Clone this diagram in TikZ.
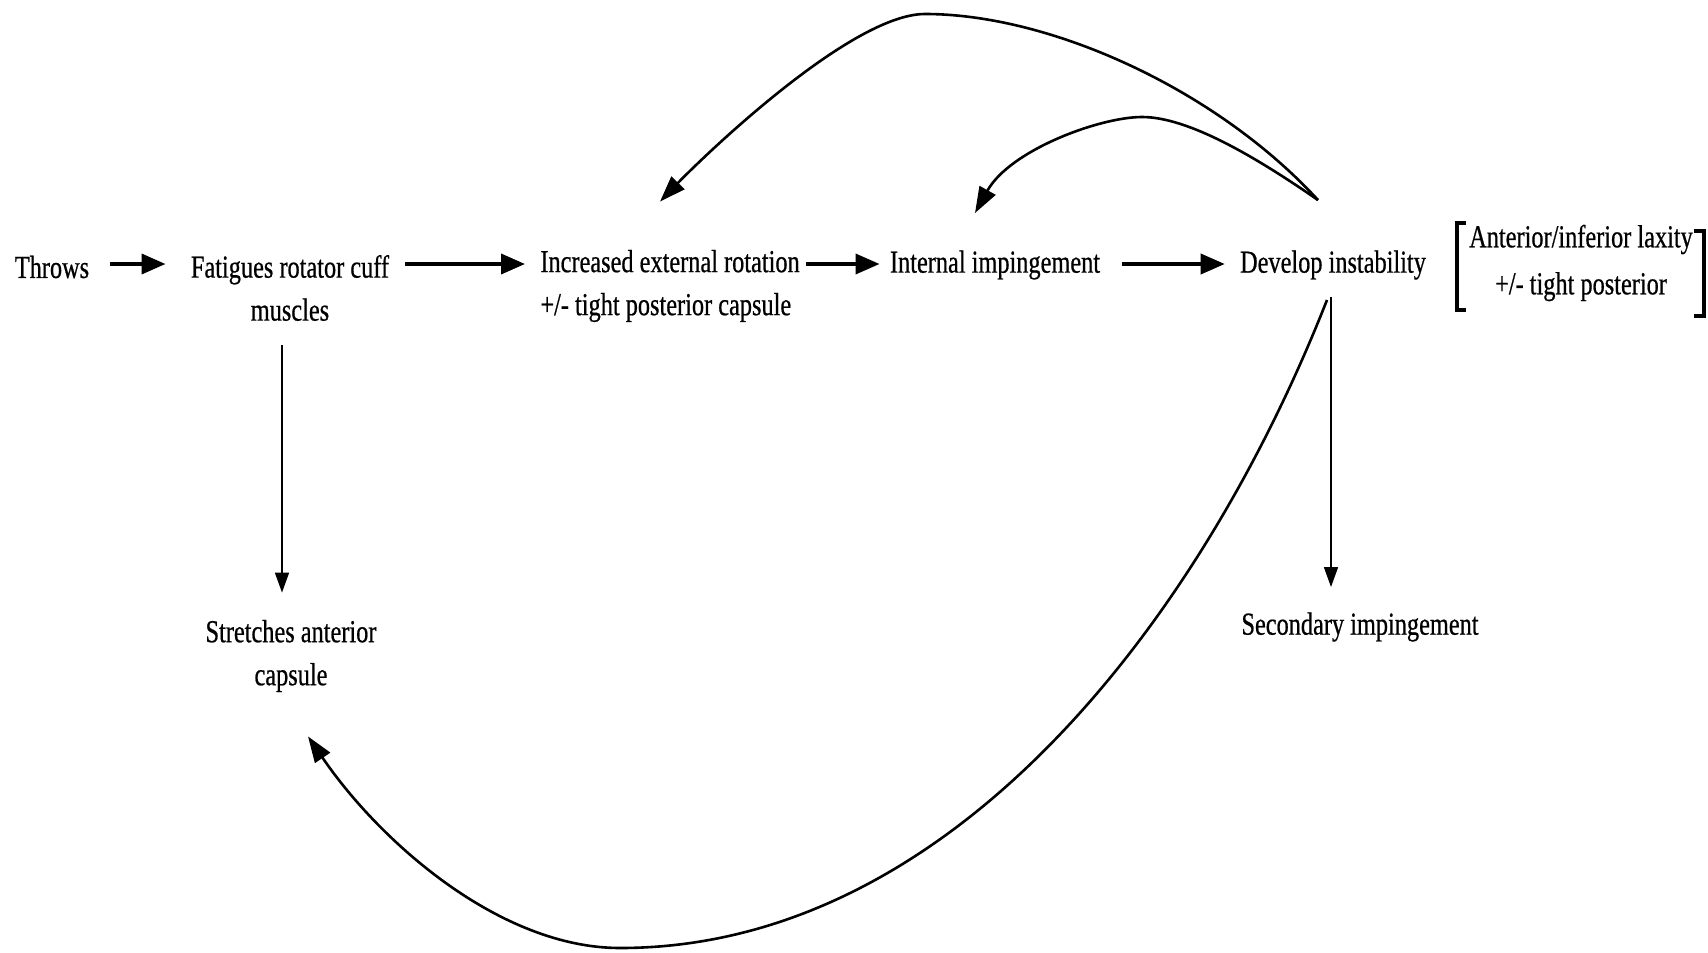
\documentclass[tikz,border=0pt]{standalone}
\usepackage{fontspec}
\setmainfont{Liberation Serif}[FakeStretch=0.76,FakeBold=0.6]
\usetikzlibrary{arrows.meta}
\begin{document}
\begin{tikzpicture}[x=0.5pt,y=-0.5pt,
  txt/.style={inner sep=0pt, font=\fontsize{16}{21.5}\selectfont},
  harr/.style={line width=1.8pt, -{Triangle[length=12pt,width=10pt]}},
  varr/.style={line width=0.8pt, -{Triangle[length=10pt,width=7pt]}},
  carr/.style={line width=1.3pt, -{Triangle[length=13pt,width=9pt]}},
  brk/.style={line width=2pt}]
\useasboundingbox (0,0) rectangle (1708,953);
\node[txt] (throws) at (52,267) {Throws};
\node[txt, align=center] (fatigues) at (290,288) {Fatigues rotator cuff\\muscles};
\node[txt, align=left, anchor=west] (increased) at (540,286) {Increased external rotation\\+/- tight posterior capsule};
\node[txt] (internal) at (995,265) {Internal impingement};
\node[txt] (develop) at (1333,265) {Develop instability};
\node[txt, align=center] (laxity) at (1581,263) {Anterior/inferior laxity\\[2pt]+/- tight posterior};
\node[txt, align=center] (stretches) at (291,656) {Stretches anterior\\capsule};
\node[txt] (secondary) at (1360,627) {Secondary impingement};
\coordinate (row) at ([yshift=1.5pt]throws.east);
% brackets
\draw[brk] (1466,223) -- (1457,223) -- (1457,310) -- (1466,310);
\draw[brk] (1694,231) -- (1704,231) -- (1704,316) -- (1694,316);
% main row
\draw[harr] ([xshift=10pt]row) -- ([xshift=-12.5pt]fatigues.west |- row);
\draw[harr] ([xshift=8pt]fatigues.east |- row) -- ([xshift=-7.5pt]increased.west |- row);
\draw[harr] ([xshift=3pt]increased.east |- row) -- ([xshift=-5pt]internal.west |- row);
\draw[harr] ([xshift=11pt]internal.east |- row) -- ([xshift=-7.5pt]develop.west |- row);
% vertical
\draw[varr] ([xshift=-4pt,yshift=-12pt]fatigues.south) -- ([xshift=-4pt,yshift=13.5pt]fatigues.south |- stretches.north);
\draw[varr] ([xshift=-1pt,yshift=-8.5pt]develop.south) -- ([xshift=-1pt,yshift=12.5pt]develop.south |- secondary.north);
% big lower curve
\draw[carr] ([xshift=-3pt,yshift=-10pt]develop.south) .. controls (1200,623) and (950,948) .. (620,948)
  .. controls (500,948) and (380,842) .. ([xshift=8.5pt,yshift=-22pt]stretches.south);
% big upper curve
\draw[carr] ([xshift=-7.5pt,yshift=25pt]develop.north) .. controls (1216,89) and (1050,14) .. (925,14)
  .. controls (850,14) and (700,160) .. ([xshift=-5pt,yshift=24pt]increased.north);
% small upper curve
\draw[carr] ([xshift=-7.5pt,yshift=25pt]develop.north) .. controls (1260,160) and (1190,117) .. (1142,117)
  .. controls (1100,117) and (1010,150) .. ([xshift=-10pt,yshift=18.5pt]internal.north);
\end{tikzpicture}
\end{document}
